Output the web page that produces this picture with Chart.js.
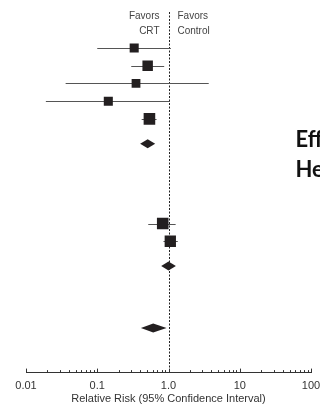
<!DOCTYPE html>
<html><head><meta charset="utf-8">
<script src="https://cdn.jsdelivr.net/npm/chart.js@4/dist/chart.umd.min.js"></script>
<style>html,body{margin:0;padding:0;background:#fff;}#wrap{width:320px;height:415px;position:relative;}</style>
</head><body><div id="wrap"><canvas id="c" width="320" height="415"></canvas></div>
<script>
// ---- data ----
const studyRows = [1, 2, 3, 4, 5, 10.9, 11.9];
const studyRR   = [0.33, 0.51, 0.35, 0.143, 0.54, 0.83, 1.06];
const studyLo   = [0.10, 0.30, 0.036, 0.019, 0.42, 0.52, 0.85];
const studyHi   = [1.08, 0.87, 3.67, 1.05, 0.68, 1.26, 1.35];
const pooledRows = [6.4, 13.3, 16.8];
const pooledRR   = [0.51, 1.0, 0.61];
const pooledLo   = [0.40, 0.79, 0.41];
const pooledHi   = [0.65, 1.27, 0.94];
const tickValues = [0.01, 0.1, 1, 10, 100];
const tickLabels = ['0.01', '0.1', '1.0', '10', '100'];
const axisTitle = 'Relative Risk (95% Confidence Interval)';
const favorsLeft = ['Favors', 'CRT'];
const favorsRight = ['Favors', 'Control'];
const sideText = ['Effect', 'Heart'];

const squareRadius = [6.4, 7.4, 6.2, 6.4, 8.2, 8.2, 8.0];
const FONT = '"Liberation Sans", Arial, sans-serif';

const forestPlugin = {
  id: 'forest',
  beforeDatasetsDraw(chart) {
    const ctx = chart.ctx, x = chart.scales.x, y = chart.scales.y, a = chart.chartArea;
    ctx.save();
    ctx.strokeStyle = '#222'; ctx.lineWidth = 1; ctx.setLineDash([2, 1.5]);
    const x1 = Math.round(x.getPixelForValue(1)) + 0.5;
    ctx.beginPath(); ctx.moveTo(x1, a.top); ctx.lineTo(x1, a.bottom); ctx.stroke();
    ctx.setLineDash([]);
    ctx.strokeStyle = '#555';
    studyRows.forEach((r, i) => {
      const py = Math.round(y.getPixelForValue(r)) + 0.5;
      ctx.beginPath();
      ctx.moveTo(x.getPixelForValue(studyLo[i]), py);
      ctx.lineTo(x.getPixelForValue(studyHi[i]), py);
      ctx.stroke();
    });
    ctx.strokeStyle = '#333';
    for (let d = -2; d <= 2; d++) {
      for (let m = 1; m <= 9; m++) {
        const v = m * Math.pow(10, d);
        if (v > 100.0001) break;
        const px = Math.round(x.getPixelForValue(v)) + 0.5;
        const len = m === 1 ? 4 : 2.5;
        ctx.beginPath(); ctx.moveTo(px, a.bottom); ctx.lineTo(px, a.bottom - len); ctx.stroke();
      }
    }
    ctx.restore();
  },
  afterDatasetsDraw(chart) {
    const ctx = chart.ctx, x = chart.scales.x, y = chart.scales.y;
    ctx.save();
    ctx.fillStyle = '#231f20';
    pooledRows.forEach((r, i) => {
      const py = y.getPixelForValue(r);
      const h = 4.5;
      ctx.beginPath();
      ctx.moveTo(x.getPixelForValue(pooledLo[i]), py);
      ctx.lineTo(x.getPixelForValue(pooledRR[i]), py - h);
      ctx.lineTo(x.getPixelForValue(pooledHi[i]), py);
      ctx.lineTo(x.getPixelForValue(pooledRR[i]), py + h);
      ctx.closePath(); ctx.fill();
    });
    const x1 = x.getPixelForValue(1);
    ctx.fillStyle = '#444'; ctx.font = '10px ' + FONT; ctx.textBaseline = 'middle';
    ctx.textAlign = 'right';
    favorsLeft.forEach((t, i) => ctx.fillText(t, x1 - 9, 16.5 + i * 14.5));
    ctx.textAlign = 'left';
    favorsRight.forEach((t, i) => ctx.fillText(t, x1 + 9, 16.5 + i * 14.5));
    ctx.fillStyle = '#111'; ctx.font = 'bold 22px Lato, "Open Sans", sans-serif';
    ctx.textBaseline = 'alphabetic'; ctx.textAlign = 'left';
    sideText.forEach((t, i) => ctx.fillText(t, 295.5, 146.5 + i * 30));
    ctx.restore();
  }
};

new Chart(document.getElementById('c'), {
  type: 'scatter',
  data: {
    datasets: [{
      data: studyRows.map((r, i) => ({ x: studyRR[i], y: r })),
      pointStyle: 'rect',
      pointRadius: squareRadius,
      pointHoverRadius: squareRadius,
      backgroundColor: '#231f20',
      borderColor: '#231f20',
      borderWidth: 0
    }]
  },
  options: {
    responsive: false,
    animation: false,
    events: [],
    layout: { padding: { left: 26, right: 9, top: 12, bottom: 9.5 } },
    plugins: { legend: { display: false }, tooltip: { enabled: false } },
    scales: {
      x: {
        type: 'logarithmic', min: 0.01, max: 100,
        grid: { display: false, drawTicks: false },
        border: { display: true, color: '#333', width: 1 },
        ticks: {
          autoSkip: false, maxRotation: 0, padding: 7,
          color: '#333', font: { family: FONT, size: 11 },
          callback: (v) => {
            const k = tickValues.findIndex(t => Math.abs(t - v) / t < 1e-6);
            return k >= 0 ? tickLabels[k] : '';
          }
        },
        afterBuildTicks: (s) => { s.ticks = tickValues.map(v => ({ value: v })); },
        afterFit: (s) => { s.paddingLeft = 0; s.paddingRight = 0; },
        title: { display: true, text: axisTitle, color: '#333', font: { family: FONT, size: 11 }, padding: { top: -7.5, bottom: 0 } }
      },
      y: { type: 'linear', display: false, reverse: true, min: -1.03, max: 19.31 }
    }
  },
  plugins: [forestPlugin]
});
</script></body></html>
